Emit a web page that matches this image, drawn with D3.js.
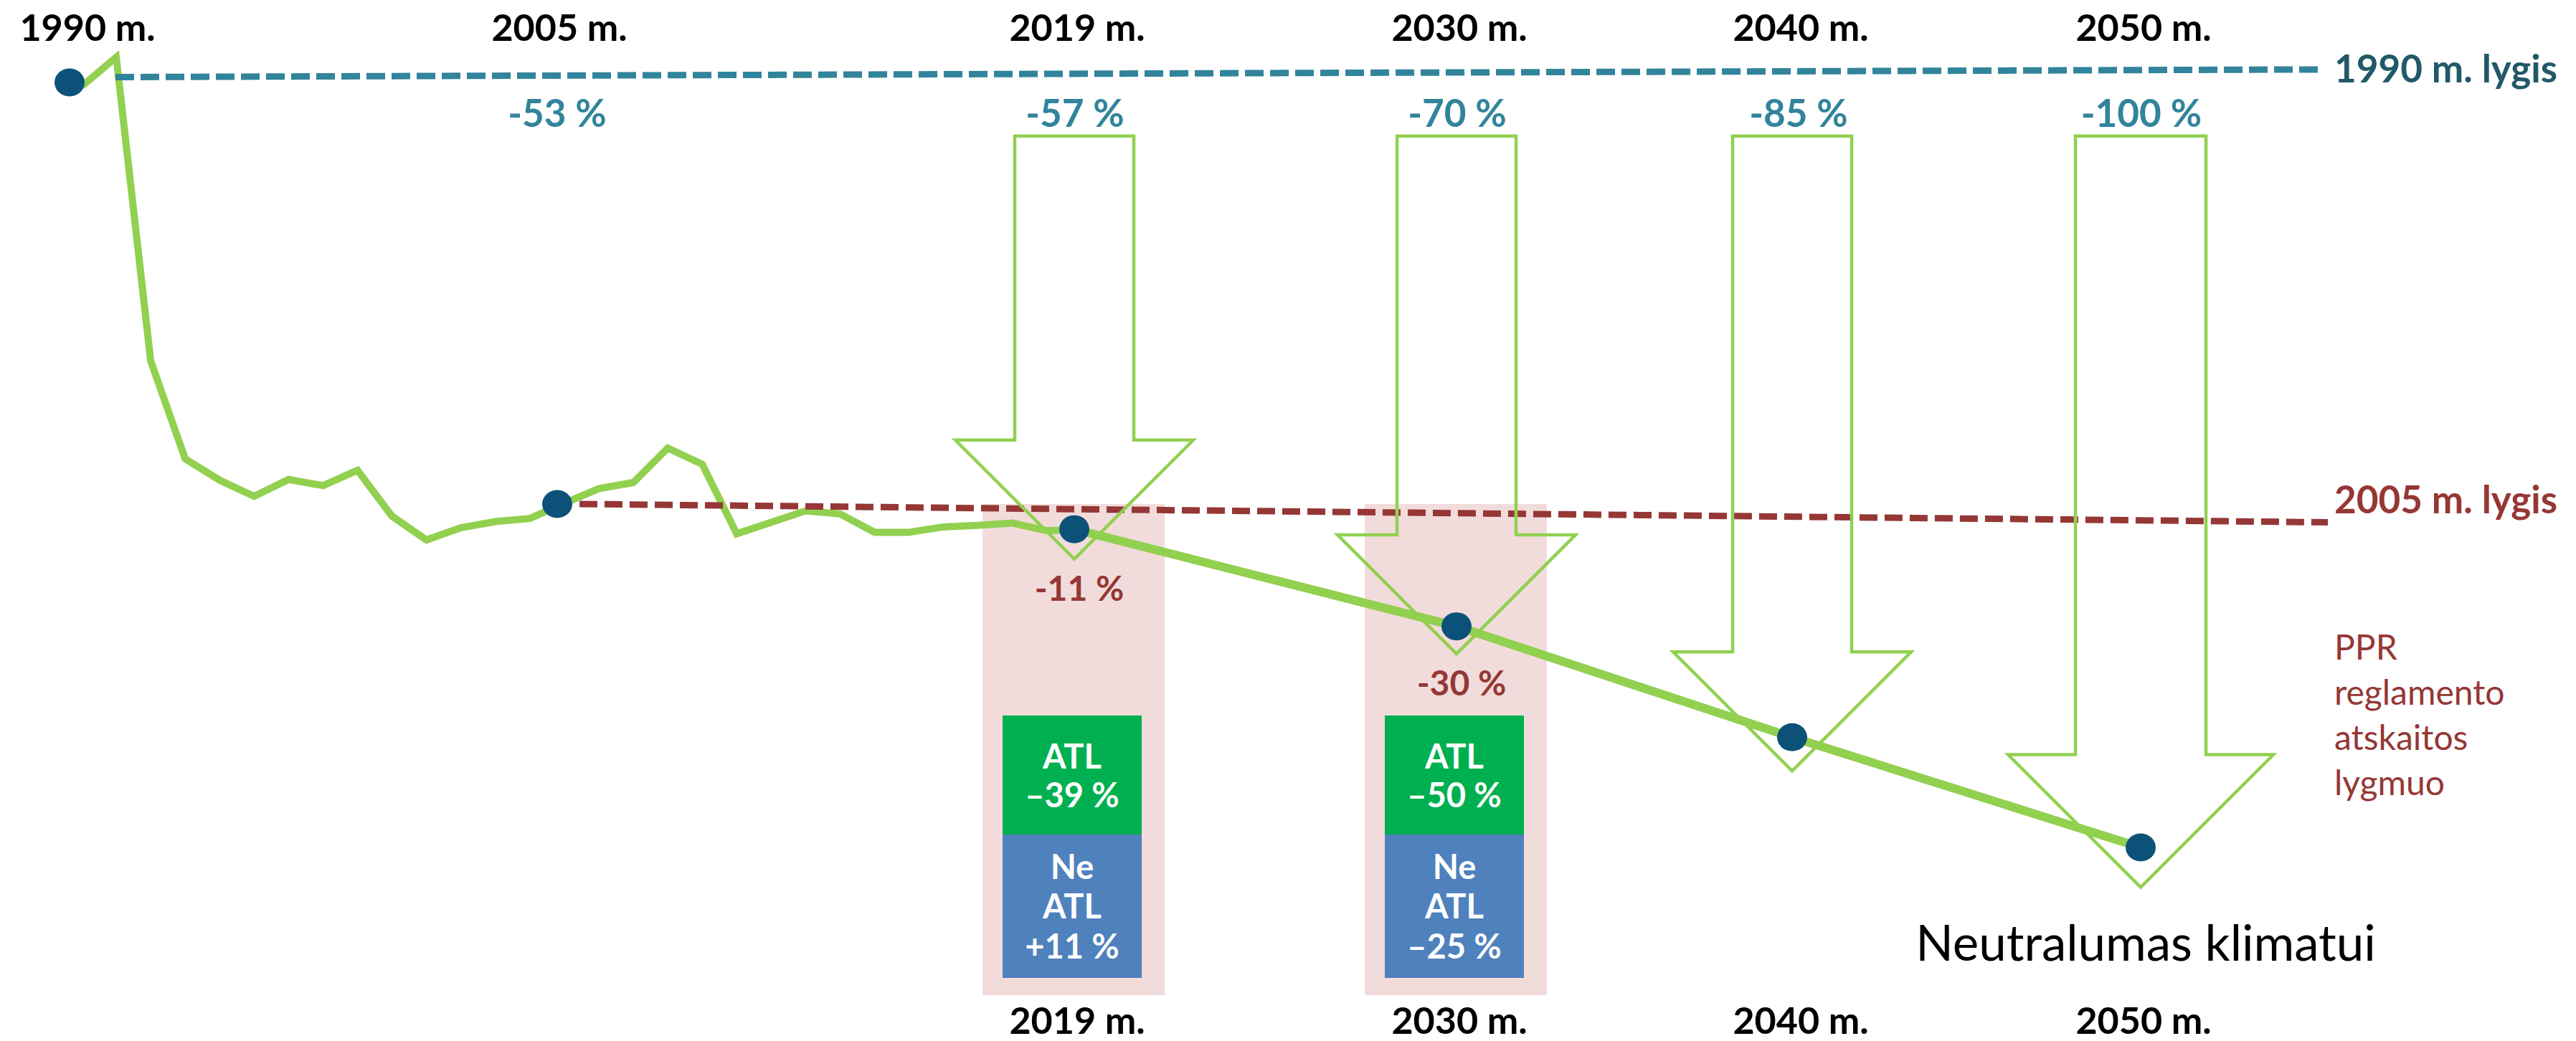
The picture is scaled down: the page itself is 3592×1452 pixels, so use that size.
<!DOCTYPE html>
<html>
<head>
<meta charset="utf-8">
<script src="https://cdn.jsdelivr.net/npm/d3@7"></script>
<style>
  body { margin: 0; background: #fff; }
  svg { display: block; font-family: Lato, 'Open Sans', sans-serif; }
</style>
</head>
<body>
<svg id="chart" width="3592" height="1452"></svg>
<script>
// emissions index, 1990 = 100
const historyYears = [1990, 1991, 1992, 1993, 1994, 1995, 1996, 1997, 1998, 1999,
  2000, 2001, 2002, 2003, 2004, 2005, 2006, 2007, 2008, 2009,
  2010, 2011, 2012, 2013, 2014, 2015, 2016, 2017, 2018, 2019];
const historyValues = [99.5, 103.3, 63.6, 50.8, 48.0, 45.9, 48.1, 47.3, 49.3, 43.3,
  40.2, 41.8, 42.6, 43.0, 45.0, 46.9, 47.7, 52.2, 50.1, 41.0,
  42.5, 44.0, 43.6, 41.2, 41.2, 41.9, 42.1, 42.4, 41.4, 41.6];

const milestoneYears = [1990, 2005, 2019, 2030, 2040, 2050];
const milestoneValues = [100, 44.9, 41.6, 28.9, 14.4, 0];
const milestoneLabels = ['1990 m.', '2005 m.', '2019 m.', '2030 m.', '2040 m.', '2050 m.'];

const targetYears = [2005, 2019, 2030, 2040, 2050];
const targetLabels = ['-53 %', '-57 %', '-70 %', '-85 %', '-100 %'];

const arrowYears = [2019, 2030, 2040, 2050];
const arrowTips = [37.7, 25.3, 10.0, -5.2];
const arrowTop = 93;

const essYears = [2019, 2030];
const essLabels = ['-11 %', '-30 %'];
const atlLabels = ['\u201339 %', '\u201350 %'];
const neAtlLabels = ['+11 %', '\u201325 %'];

const bottomYears = [2019, 2030, 2040, 2050];

const level1990 = [100.7, 101.7];
const level2005 = [44.9, 42.5];

const pprLines = ['PPR', 'reglamento', 'atskaitos', 'lygmuo'];

// colours
const green = '#92d050';
const teal = '#31849b';
const darkTeal = '#215968';
const darkRed = '#953735';
const dotBlue = '#0c5278';

const svg = d3.select('#chart');

const xHist = d3.scaleLinear().domain([1990, 2019]).range([114, 1508]);
const xMile = d3.scaleLinear().domain(milestoneYears).range([97, 777, 1498, 2031, 2499, 2985]);
const xLabel = d3.scaleLinear().domain(milestoneYears).range([122, 780, 1502, 2035, 2511, 2989]);
const y = d3.scaleLinear().domain([0, 100]).range([1182, 115]);

const valueAt = (years, values) => d => values[years.indexOf(d)];
const mileValue = valueAt(milestoneYears, milestoneValues);

// pink ESS bands
svg.selectAll('.band')
  .data(essYears)
  .join('rect')
    .attr('class', 'band')
    .attr('x', d => xMile(d) - 128)
    .attr('y', 703)
    .attr('width', 254)
    .attr('height', 685)
    .attr('fill', '#f2dcdb');

// ATL / Ne ATL boxes
const boxes = svg.selectAll('.box')
  .data(essYears)
  .join('g')
    .attr('class', 'box')
    .attr('transform', d => `translate(${xMile(d) - 3},998)`);

boxes.append('rect')
    .attr('x', -97).attr('y', 0)
    .attr('width', 194).attr('height', 166)
    .attr('fill', '#00b050');
boxes.append('rect')
    .attr('x', -97).attr('y', 166)
    .attr('width', 194).attr('height', 200)
    .attr('fill', '#4f81bd');

const boxText = (sel, text, dy) => sel.append('text')
    .attr('y', dy)
    .attr('text-anchor', 'middle')
    .attr('fill', 'white')
    .style('font-weight', 700)
    .style('font-size', '47px')
    .text(text);

boxText(boxes, 'ATL', 74);
boxText(boxes, (d, i) => atlLabels[i], 128);
boxText(boxes, 'Ne', 228);
boxText(boxes, 'ATL', 283);
boxText(boxes, (d, i) => neAtlLabels[i], 339);

// historic emissions
const histLine = d3.line()
  .x(d => xHist(d))
  .y(d => y(valueAt(historyYears, historyValues)(d)));

svg.append('path')
    .datum(historyYears)
    .attr('d', histLine)
    .attr('fill', 'none')
    .attr('stroke', green)
    .attr('stroke-width', 10)
    .attr('stroke-linejoin', 'miter');

// reference levels
svg.append('line')
    .attr('x1', xMile(1990) + 64).attr('y1', y(level1990[0]))
    .attr('x2', 3238).attr('y2', y(level1990[1]))
    .attr('stroke', teal)
    .attr('stroke-width', 9)
    .attr('stroke-dasharray', '26,9');

svg.append('line')
    .attr('x1', xMile(2005) + 31).attr('y1', y(level2005[0]))
    .attr('x2', 3246).attr('y2', y(level2005[1]))
    .attr('stroke', darkRed)
    .attr('stroke-width', 9)
    .attr('stroke-dasharray', '25,10');

// target arrows
const arrowSize = d => (d === 2050 ? { shaft: 91, head: 185 } : { shaft: 83, head: 166 });

svg.selectAll('.arrow')
  .data(arrowYears)
  .join('path')
    .attr('class', 'arrow')
    .attr('d', (d, i) => {
      const cx = xMile(d);
      const top = y(arrowTop);
      const tip = y(arrowTips[i]);
      const s = arrowSize(d);
      const neck = tip - s.head;
      return `M${cx - s.shaft},${top}L${cx + s.shaft},${top}L${cx + s.shaft},${neck}`
        + `L${cx + s.head},${neck}L${cx},${tip}L${cx - s.head},${neck}L${cx - s.shaft},${neck}Z`;
    })
    .attr('fill', 'none')
    .attr('stroke', green)
    .attr('stroke-width', 4.5);

// projected path
const futureYears = milestoneYears.filter(d => d >= 2019);
svg.append('path')
    .datum(futureYears)
    .attr('d', d3.line().x(d => xMile(d)).y(d => y(mileValue(d))))
    .attr('fill', 'none')
    .attr('stroke', green)
    .attr('stroke-width', 12);

// milestone dots
svg.selectAll('.dot')
  .data(milestoneYears)
  .join('ellipse')
    .attr('class', 'dot')
    .attr('cx', d => xMile(d))
    .attr('cy', d => y(mileValue(d)))
    .attr('rx', 21)
    .attr('ry', 19.5)
    .attr('fill', dotBlue);

// year labels on top
svg.selectAll('.top-label')
  .data(milestoneYears)
  .join('text')
    .attr('class', 'top-label')
    .attr('x', d => xLabel(d))
    .attr('y', 57)
    .attr('text-anchor', 'middle')
    .style('font-weight', 700)
    .style('font-size', '52px')
    .text((d, i) => milestoneLabels[i]);

svg.selectAll('.target-label')
  .data(targetYears)
  .join('text')
    .attr('class', 'target-label')
    .attr('x', d => xLabel(d) - 3)
    .attr('y', 177)
    .attr('text-anchor', 'middle')
    .attr('fill', teal)
    .style('font-weight', 700)
    .style('font-size', '53px')
    .text((d, i) => targetLabels[i]);

svg.selectAll('.bottom-label')
  .data(bottomYears)
  .join('text')
    .attr('class', 'bottom-label')
    .attr('x', d => xLabel(d))
    .attr('y', 1442)
    .attr('text-anchor', 'middle')
    .style('font-weight', 700)
    .style('font-size', '52px')
    .text(d => milestoneLabels[milestoneYears.indexOf(d)]);

// ESS reduction labels under the arrow tips
svg.selectAll('.ess-label')
  .data(essYears)
  .join('text')
    .attr('class', 'ess-label')
    .attr('x', d => xMile(d) + 7)
    .attr('y', (d, i) => y(arrowTips[arrowYears.indexOf(d)]) + 58)
    .attr('text-anchor', 'middle')
    .attr('fill', darkRed)
    .style('font-weight', 700)
    .style('font-size', '48px')
    .text((d, i) => essLabels[i]);

// level labels
svg.append('text')
    .attr('x', 3255).attr('y', 115)
    .attr('fill', darkTeal)
    .style('font-weight', 700)
    .style('font-size', '53px')
    .text('1990 m. lygis');

svg.append('text')
    .attr('x', 3255).attr('y', 716)
    .attr('fill', darkRed)
    .style('font-weight', 700)
    .style('font-size', '53px')
    .text('2005 m. lygis');

svg.append('text')
    .attr('x', 3255)
    .attr('fill', darkRed)
    .style('font-size', '48px')
  .selectAll('tspan')
  .data(pprLines)
  .join('tspan')
    .attr('x', 3255)
    .attr('y', (d, i) => 920 + i * 63)
    .text(d => d);

svg.append('text')
    .attr('x', xMile(2050) + 7)
    .attr('y', 1340)
    .attr('text-anchor', 'middle')
    .style('font-size', '69px')
    .text('Neutralumas klimatui');
</script>
</body>
</html>
